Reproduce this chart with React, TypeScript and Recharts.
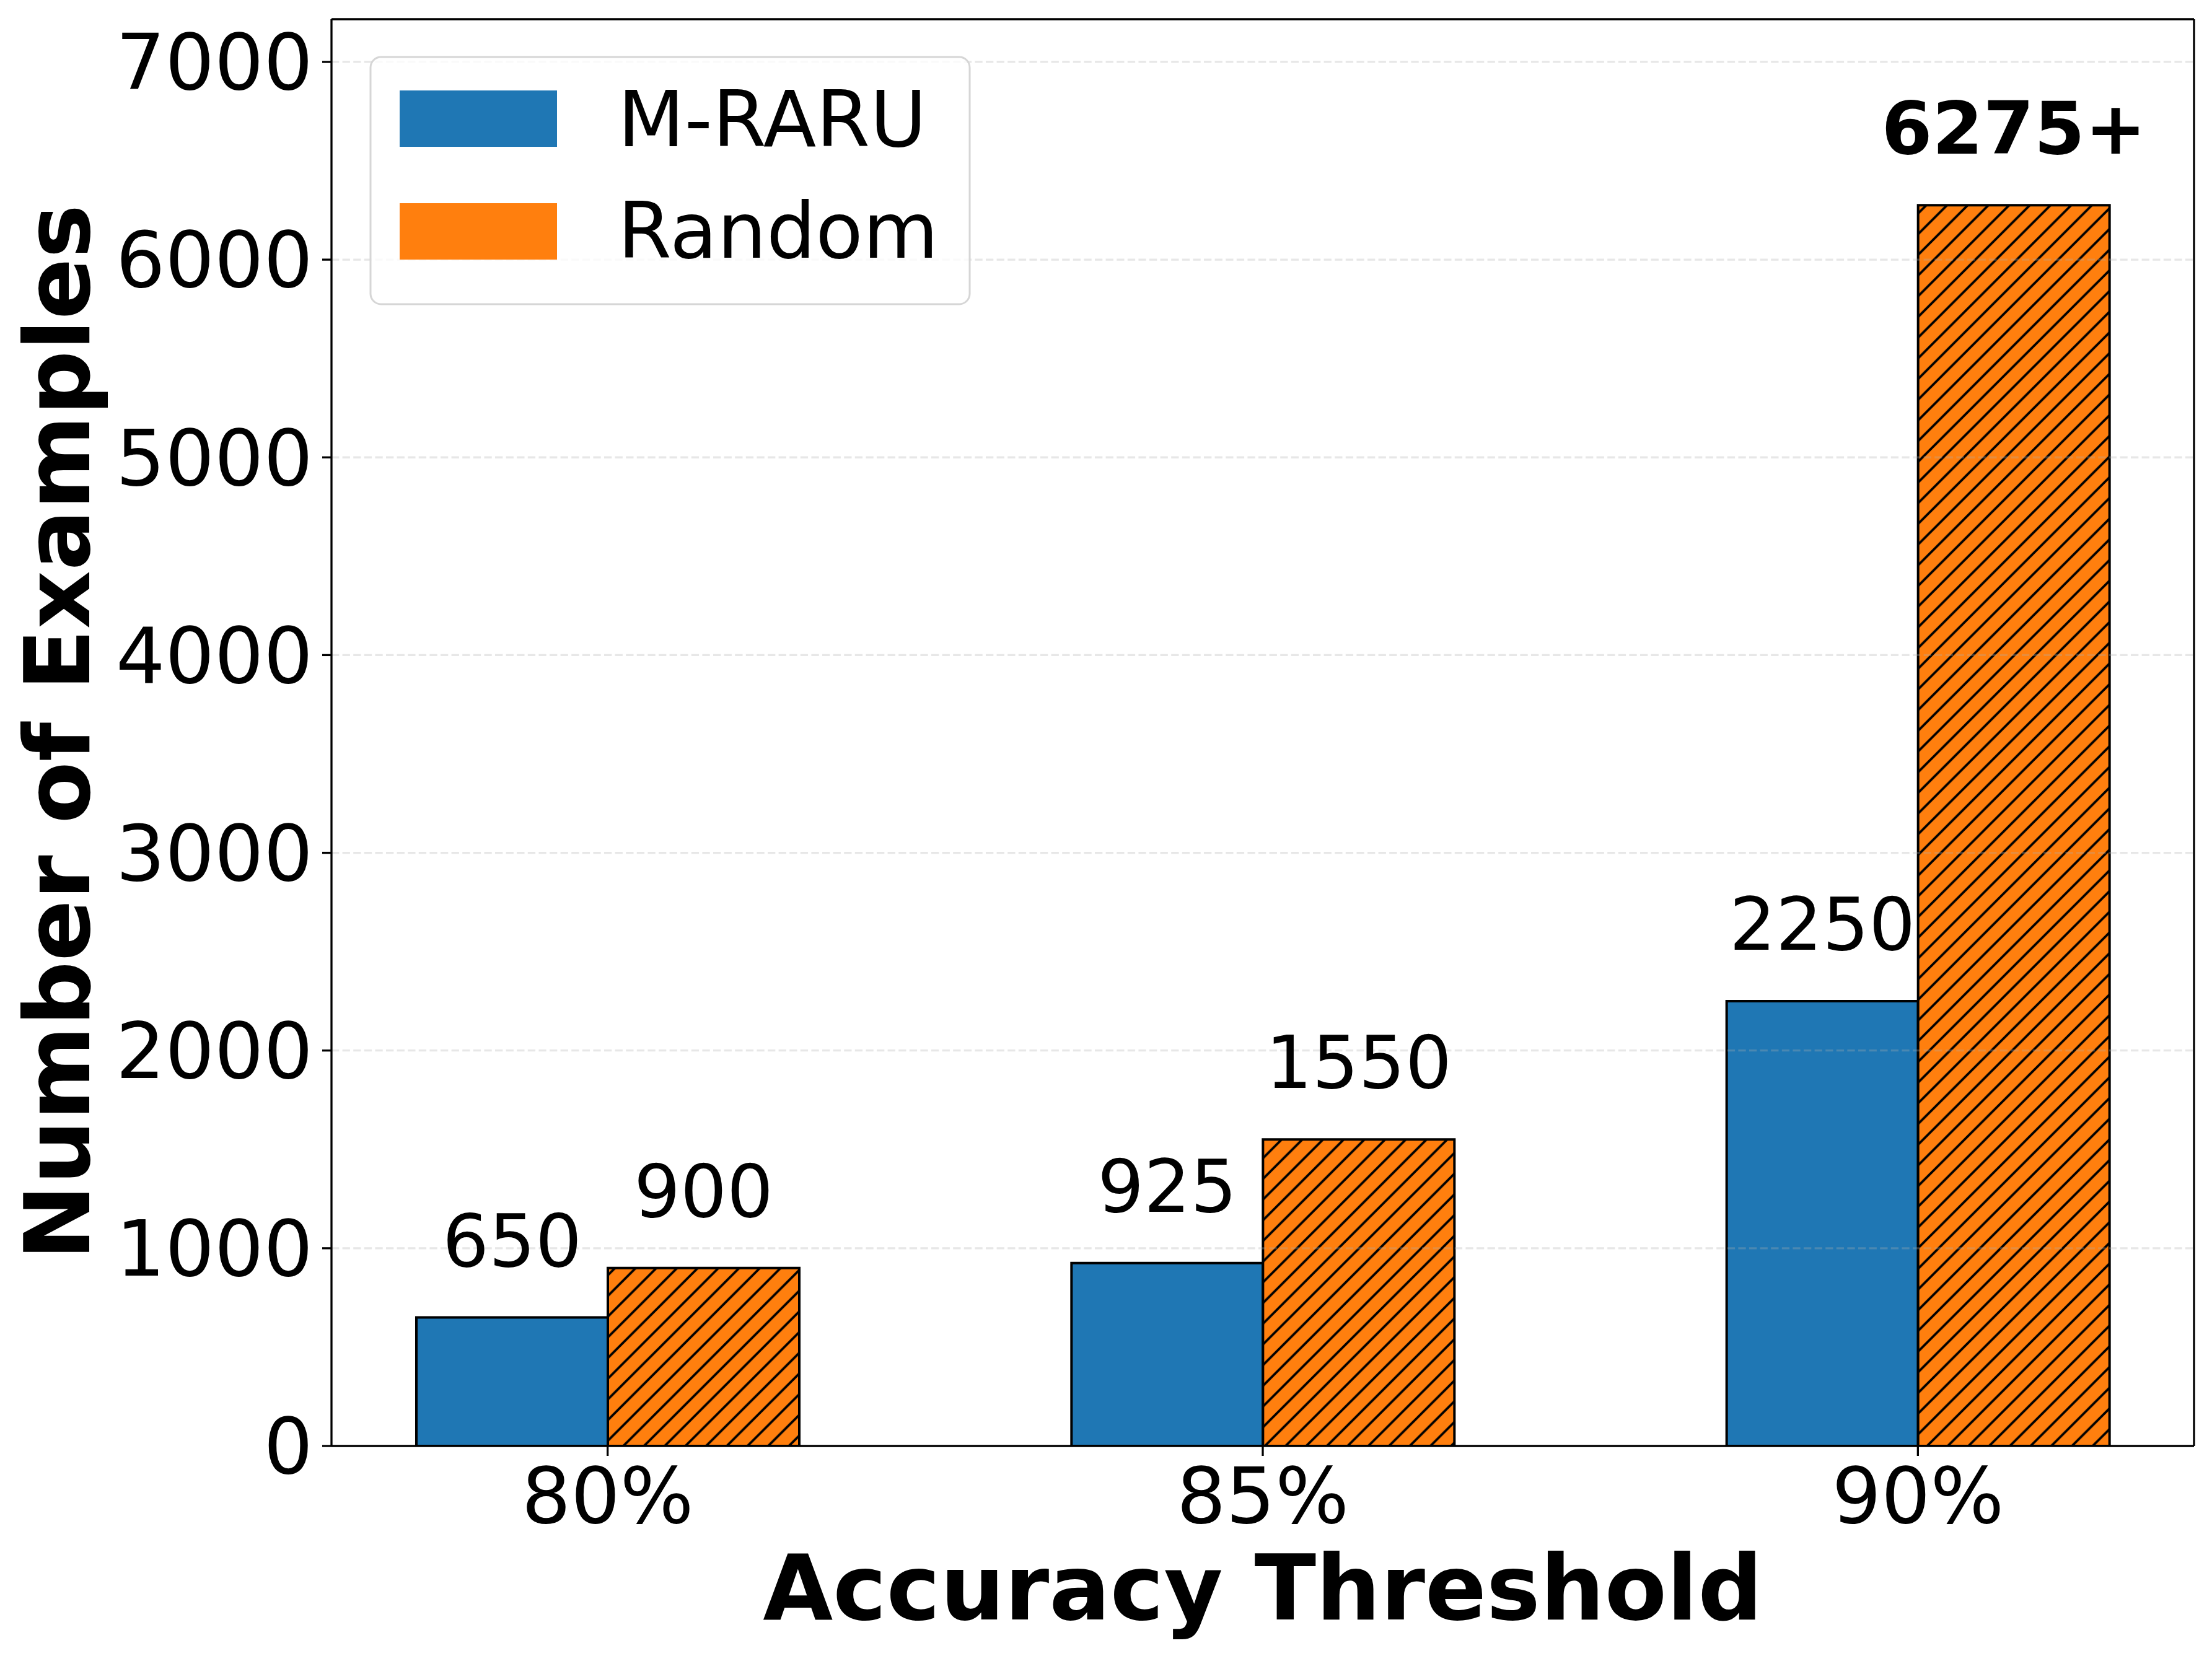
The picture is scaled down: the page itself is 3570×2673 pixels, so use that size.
import { Bar, BarChart, CartesianGrid, LabelList, Legend, ReferenceLine, XAxis, YAxis } from 'recharts'

const thresholds = ['80%', '85%', '90%']
const mraru = [650, 925, 2250]
const random = [900, 1550, 6275]
// random baseline never reached 90% within the budget, so it is shown as a lower bound
const randomCapped = [false, false, true]
const yTicks = [0, 1000, 2000, 3000, 4000, 5000, 6000, 7000]
const yMax = 7216

const BLUE = '#1f77b4'
const ORANGE = '#ff7f0e'
const FONT = '"DejaVu Sans", sans-serif'

const data = thresholds.map((t, i) => ({
  threshold: t,
  mraru: mraru[i],
  random: random[i],
  mraruLabel: String(mraru[i]),
  randomLabel: randomCapped[i] ? `${random[i]}+` : String(random[i]),
}))

function ValueLabel(props: any) {
  const vb = props.viewBox ?? props
  const x = Number(vb.x ?? props.x)
  const y = Number(vb.y ?? props.y)
  const w = Number(vb.width ?? props.width)
  const text = String(props.value)
  const bold = text.endsWith('+')
  return (
    <text
      x={x + w / 2}
      y={y - 83}
      textAnchor="middle"
      fontSize={118}
      fontWeight={bold ? 'bold' : 'normal'}
      fill="#000"
      fontFamily={FONT}
    >
      {text}
    </text>
  )
}

function LegendBox() {
  return (
    <svg width={972} height={404} style={{ display: 'block' }}>
      <rect x={2} y={2} width={967} height={399} rx={17} fill="#fff" fillOpacity={0.8} stroke="#d6d6d6" strokeWidth={3} />
      <rect x={49} y={56} width={254} height={91} fill={BLUE} />
      <rect x={49} y={238} width={254} height={91} fill={ORANGE} />
      <text x={401} y={146} fontSize={125} fill="#000" fontFamily={FONT}>M-RARU</text>
      <text x={401} y={326} fontSize={125} fill="#000" fontFamily={FONT}>Random</text>
    </svg>
  )
}

const XLabel = () => (
  <text x={2038} y={2614} textAnchor="middle" fontSize={146} fontWeight="bold" fill="#000" fontFamily={FONT}>
    Accuracy Threshold
  </text>
)

const YLabel = () => (
  <text
    x={144}
    y={1182}
    transform="rotate(-90, 144, 1182)"
    textAnchor="middle"
    fontSize={146}
    fontWeight="bold"
    fill="#000"
    fontFamily={FONT}
  >
    Number of Examples
  </text>
)

export default function App() {
  const axisLine = { stroke: '#000', strokeWidth: 3.3 }
  const tick = { fontSize: 125, fill: '#000', fontFamily: FONT }
  return (
    <div style={{ width: 3570, height: 2673, fontFamily: FONT, background: '#fff' }}>
      <style>{'body{margin:0}'}</style>
      <BarChart
        width={3570}
        height={2673}
        data={data}
        margin={{ top: 31, right: 29, left: 135, bottom: 39 }}
        barGap={0}
        barSize={309}
      >
        {/* top and right spines */}
        <CartesianGrid
          stroke="#000"
          strokeWidth={3.3}
          horizontalCoordinatesGenerator={(p: any) => [p.offset.top]}
          verticalCoordinatesGenerator={(p: any) => [p.offset.left + p.offset.width]}
        />
        <XAxis
          dataKey="threshold"
          height={300}
          padding={{ left: -83, right: -83 }}
          axisLine={axisLine}
          tickLine={axisLine}
          tickSize={16}
          tickMargin={19}
          tick={tick}
          label={XLabel}
        />
        <YAxis
          width={400}
          domain={[0, yMax]}
          ticks={yTicks}
          allowDataOverflow
          axisLine={axisLine}
          tickLine={axisLine}
          tickSize={15}
          tickMargin={15}
          tick={tick}
          label={YLabel}
        />
        <defs>
          <pattern id="hatch" patternUnits="userSpaceOnUse" width={33.4} height={33.4}>
            <rect width={33.4} height={33.4} fill={ORANGE} />
            <path
              d="M0,33.4 L33.4,0 M-8.35,8.35 L8.35,-8.35 M25.05,41.75 L41.75,25.05"
              stroke="#000"
              strokeWidth={3.8}
            />
          </pattern>
        </defs>
        <Bar dataKey="mraru" name="M-RARU" fill={BLUE} stroke="#000" strokeWidth={4} isAnimationActive={false}>
          <LabelList dataKey="mraruLabel" content={ValueLabel} />
        </Bar>
        <Bar dataKey="random" name="Random" fill="url(#hatch)" stroke="#000" strokeWidth={4} isAnimationActive={false}>
          <LabelList dataKey="randomLabel" content={ValueLabel} />
        </Bar>
        {yTicks.slice(1).map((v) => (
          <ReferenceLine key={v} y={v} stroke="#b0b0b0" strokeOpacity={0.3} strokeWidth={3.3} strokeDasharray="12.3 5.3" />
        ))}
        <Legend
          layout="vertical"
          align="center"
          verticalAlign="middle"
          content={LegendBox}
          wrapperStyle={{ left: 596, top: 90, width: 972, height: 404 }}
        />
      </BarChart>
    </div>
  )
}
